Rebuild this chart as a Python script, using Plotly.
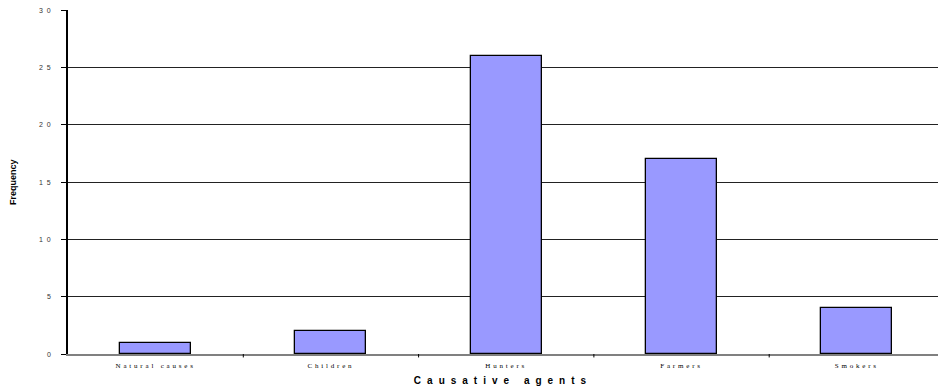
import plotly.graph_objects as go

categories = ["Natural causes", "Children", "Hunters", "Farmers", "Smokers"]
frequency = [1, 2, 26, 17, 4]
y_ticks = [0, 5, 10, 15, 20, 25, 30]

def spaced(t, px):
    return '<span style="letter-spacing:%spx">%s</span>' % (px, t)

fig = go.Figure()
fig.add_trace(go.Bar(
    x=list(range(len(categories))),
    y=frequency,
    width=0.405,
    marker=dict(color="#9999FF", line=dict(color="#000000", width=1.3)),
    hoverinfo="skip",
))

fig.update_layout(
    width=938, height=390,
    margin=dict(l=68, r=0, t=10, b=36),
    paper_bgcolor="white", plot_bgcolor="white",
    showlegend=False,
    bargap=0,
    xaxis=dict(
        range=[-0.5, 4.463],
        tickmode="array",
        tickvals=list(range(len(categories))),
        ticktext=[spaced(c, 2.8) for c in categories],
        tickfont=dict(family="Liberation Serif", size=7, color="#000000"),
        showgrid=False, zeroline=False,
        showline=True, linecolor="#808080", linewidth=1.5,
        ticks="", ticklabelstandoff=4,
        title=dict(text=spaced("Causative agents", 6),
                   font=dict(family="Liberation Sans", size=10, color="#000000", weight="bold"),
                   standoff=8),
    ),
    yaxis=dict(
        range=[0, 30],
        tickmode="array",
        tickvals=y_ticks,
        showticklabels=False,
        showgrid=True, gridcolor="#222222", gridwidth=1,
        zeroline=False,
        showline=True, linecolor="#000000", linewidth=1.5,
        ticks="outside", ticklen=5, tickcolor="#000000", tickwidth=1,
    ),
)

# y tick labels (placed left of the tick marks, as in the original)
for v in y_ticks:
    fig.add_annotation(
        xref="paper", yref="y", x=0, y=v, xanchor="right", yanchor="middle",
        xshift=-14, showarrow=False,
        text=spaced(" ".join(str(v)) if v >= 10 else str(v), 1),
        font=dict(family="Liberation Sans", size=7, color="#333333"),
    )

# y axis title
fig.add_annotation(
    xref="paper", yref="paper", x=0, y=0.5, xanchor="center", yanchor="middle",
    xshift=-55, showarrow=False, textangle=-90, text="Frequency",
    font=dict(family="Liberation Sans", size=9, color="#000000", weight="bold"),
)

# category boundary tick marks on the x axis
for b in [0.5, 1.5, 2.5, 3.5]:
    fig.add_shape(type="line", xref="x", yref="paper", x0=b, x1=b, y0=0, y1=-0.01,
                  line=dict(color="#000000", width=1))

fig.write_html("out.html")
